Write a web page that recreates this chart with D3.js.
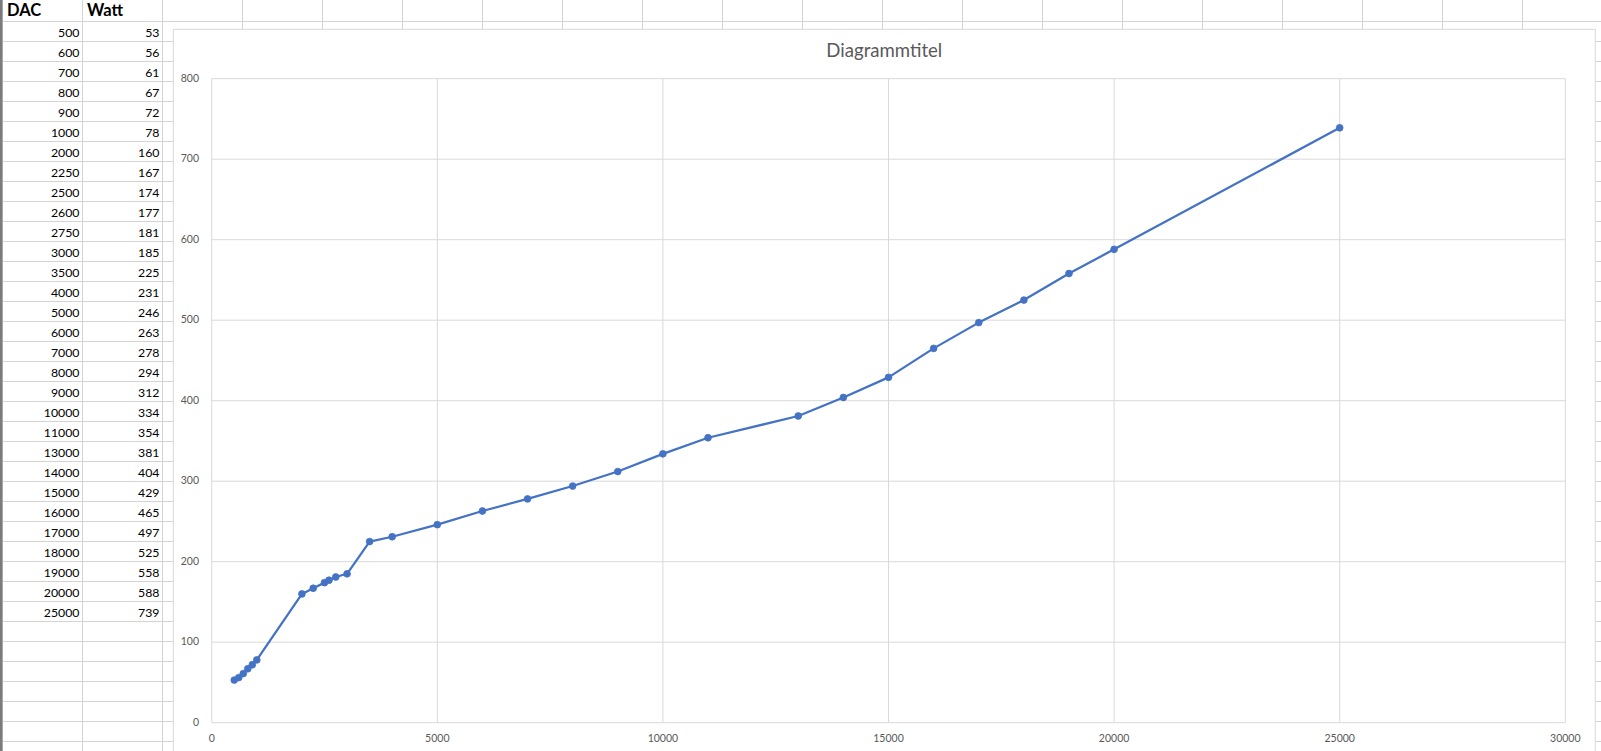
<!DOCTYPE html>
<html>
<head>
<meta charset="utf-8">
<script src="https://cdn.jsdelivr.net/npm/d3@7"></script>
<style>
  html, body { margin: 0; padding: 0; background: #fff; overflow: hidden; }
  svg { display: block; }
</style>
</head>
<body>
<svg width="1601" height="751"></svg>
<script>
// table + chart data (DAC vs Watt)
const dac = [500, 600, 700, 800, 900, 1000, 2000, 2250, 2500, 2600, 2750, 3000, 3500, 4000,
  5000, 6000, 7000, 8000, 9000, 10000, 11000, 13000, 14000, 15000, 16000, 17000, 18000,
  19000, 20000, 25000];
const watt = [53, 56, 61, 67, 72, 78, 160, 167, 174, 177, 181, 185, 225, 231,
  246, 263, 278, 294, 312, 334, 354, 381, 404, 429, 465, 497, 525,
  558, 588, 739];
const headers = ["DAC", "Watt"];
const xTicks = [0, 5000, 10000, 15000, 20000, 25000, 30000];
const yTicks = [0, 100, 200, 300, 400, 500, 600, 700, 800];
const chartTitle = "Diagrammtitel";

const svg = d3.select("svg");
const W = 1601, H = 751;
const font = "Lato, 'Open Sans', sans-serif";
const gridCol = "#d4d4d4";

// spreadsheet grid
const colW = 80, rowH = 20, col0 = 2.5, row0 = 21.5;
const sheet = svg.append("g");
d3.range(0, 21).forEach((i) => {
  sheet.append("line")
    .attr("x1", col0 + i * colW).attr("x2", col0 + i * colW)
    .attr("y1", 0).attr("y2", H)
    .attr("stroke", gridCol).attr("stroke-width", 1);
});
d3.range(0, 37).forEach((i) => {
  sheet.append("line")
    .attr("x1", 0).attr("x2", W)
    .attr("y1", row0 + i * rowH).attr("y2", row0 + i * rowH)
    .attr("stroke", gridCol).attr("stroke-width", 1);
});
// dark strip of the row header at the left edge
sheet.append("rect").attr("x", 0).attr("y", 0).attr("width", 2.5).attr("height", H)
  .attr("fill", "#7b7b7b");

// header row
sheet.selectAll(".hdr").data(headers).enter().append("text")
  .attr("x", (d, i) => col0 + i * colW + 4.5)
  .attr("y", 16)
  .attr("font-family", font).attr("font-weight", 700).attr("font-size", 16.5)
  .attr("fill", "#000")
  .text((d) => d);

// data cells
[dac, watt].forEach((col, c) => {
  sheet.selectAll(".c" + c).data(col).enter().append("text")
    .attr("x", col0 + (c + 1) * colW - 3)
    .attr("y", (d, i) => row0 + i * rowH + 15)
    .attr("text-anchor", "end")
    .attr("font-family", font).attr("font-size", 12.3)
    .attr("fill", "#000")
    .text((d) => d);
});

// chart box
const box = { x: 173.3, y: 29.3, w: 1422, h: 760 };
svg.append("rect")
  .attr("x", box.x).attr("y", box.y).attr("width", box.w).attr("height", box.h)
  .attr("fill", "#fff").attr("stroke", "#d9d9d9").attr("stroke-width", 1);

svg.append("text")
  .attr("x", box.x + box.w / 2).attr("y", 56.7)
  .attr("text-anchor", "middle")
  .attr("font-family", font).attr("font-size", 18.6)
  .attr("fill", "#595959")
  .text(chartTitle);

// scales
const xScale = d3.scaleLinear().domain([0, 30000]).range([211.7, 1565.3]);
const yScale = d3.scaleLinear().domain([0, 800]).range([722.7, 78.7]);

const plot = svg.append("g");
plot.selectAll(".vg").data(xTicks).enter().append("line")
  .attr("x1", (d) => xScale(d)).attr("x2", (d) => xScale(d))
  .attr("y1", yScale(0)).attr("y2", yScale(800))
  .attr("stroke", "#d9d9d9").attr("stroke-width", 1);
plot.selectAll(".hg").data(yTicks).enter().append("line")
  .attr("x1", xScale(0)).attr("x2", xScale(30000))
  .attr("y1", (d) => yScale(d)).attr("y2", (d) => yScale(d))
  .attr("stroke", "#d9d9d9").attr("stroke-width", 1);

// tick labels
plot.selectAll(".yl").data(yTicks).enter().append("text")
  .attr("x", 199).attr("y", (d) => yScale(d))
  .attr("dy", "0.3em")
  .attr("text-anchor", "end")
  .attr("font-family", font).attr("font-size", 10.5)
  .attr("fill", "#595959")
  .text((d) => d);
plot.selectAll(".xl").data(xTicks).enter().append("text")
  .attr("x", (d) => xScale(d)).attr("y", 742)
  .attr("text-anchor", "middle")
  .attr("font-family", font).attr("font-size", 10.5)
  .attr("fill", "#595959")
  .text((d) => d);

// series
const pts = dac.map((d, i) => ({ x: d, y: watt[i] }));
const line = d3.line().x((d) => xScale(d.x)).y((d) => yScale(d.y));
plot.append("path")
  .datum(pts)
  .attr("d", line)
  .attr("fill", "none")
  .attr("stroke", "#4472c4")
  .attr("stroke-width", 2.25)
  .attr("stroke-linejoin", "round");
plot.selectAll(".pt").data(pts).enter().append("circle")
  .attr("cx", (d) => xScale(d.x)).attr("cy", (d) => yScale(d.y))
  .attr("r", 3.4)
  .attr("fill", "#4472c4")
  .attr("stroke", "#4472c4").attr("stroke-width", 0.75);
</script>
</body>
</html>
